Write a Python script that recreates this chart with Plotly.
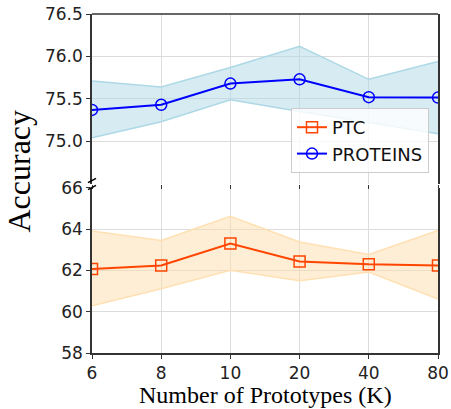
import plotly.graph_objects as go

categories = ["6", "8", "10", "20", "40", "80"]

proteins_mean = [75.37, 75.43, 75.68, 75.73, 75.52, 75.515]
proteins_upper = [75.71, 75.64, 75.87, 76.12, 75.73, 75.94]
proteins_lower = [75.04, 75.23, 75.49, 75.35, 75.22, 75.09]

ptc_mean = [62.06, 62.24, 63.30, 62.43, 62.29, 62.24]
ptc_upper = [63.90, 63.45, 64.62, 63.37, 62.77, 63.93]
ptc_lower = [60.28, 61.11, 62.00, 61.50, 61.92, 60.61]

top_ticks = [75.0, 75.5, 76.0, 76.5]
bottom_ticks = [58, 60, 62, 64, 66]

W, H = 451, 409
L, R, T, B = 92, 13, 14, 56
PW, PH = W - L - R, H - T - B


def px_x(p):
    return (p - L) / PW


def px_y(p):
    return (H - B - p) / PH


fig = go.Figure()

# PROTEINS band (top)
fig.add_trace(go.Scatter(x=categories, y=proteins_upper, xaxis="x2", yaxis="y2",
                         mode="lines", line=dict(color="rgb(173,216,230)", width=1.5),
                         showlegend=False, hoverinfo="skip"))
fig.add_trace(go.Scatter(x=categories, y=proteins_lower, xaxis="x2", yaxis="y2",
                         mode="lines", line=dict(color="rgb(173,216,230)", width=1.5),
                         fill="tonexty", fillcolor="rgba(173,216,230,0.5)",
                         showlegend=False, hoverinfo="skip"))
# PTC band (bottom)
fig.add_trace(go.Scatter(x=categories, y=ptc_upper, xaxis="x", yaxis="y",
                         mode="lines", line=dict(color="rgb(255,224,178)", width=1.5),
                         showlegend=False, hoverinfo="skip"))
fig.add_trace(go.Scatter(x=categories, y=ptc_lower, xaxis="x", yaxis="y",
                         mode="lines", line=dict(color="rgb(255,224,178)", width=1.5),
                         fill="tonexty", fillcolor="rgba(255,222,173,0.5)",
                         showlegend=False, hoverinfo="skip"))

fig.add_trace(go.Scatter(x=categories, y=ptc_mean, xaxis="x", yaxis="y", name="PTC",
                         legendrank=1,
                         mode="lines+markers", line=dict(color="#FF4500", width=2),
                         marker=dict(symbol="square-open", size=11, color="#FF4500",
                                     line=dict(width=1.5))))
fig.add_trace(go.Scatter(x=categories, y=proteins_mean, xaxis="x2", yaxis="y2", name="PROTEINS",
                         legendrank=2,
                         mode="lines+markers", line=dict(color="#0000FF", width=2),
                         marker=dict(symbol="circle-open", size=11, color="#0000FF",
                                     line=dict(width=1.5))))

spine = "#333333"
grid = "#dcdcdc"
tickfont = dict(family="DejaVu Sans", size=17, color="#222222")

bottom_dom = [0, px_y(187.7)]
top_dom = [px_y(183.7), 1]

fig.update_layout(
    template="none",
    width=W, height=H,
    margin=dict(l=L, r=R, t=T, b=B, pad=0),
    paper_bgcolor="white", plot_bgcolor="white",
    xaxis=dict(domain=[0, 1], anchor="y", type="category", range=[0, 5],
               categoryorder="array", categoryarray=categories, automargin=False,
               showgrid=True, gridcolor=grid, gridwidth=1,
               showline=True, linecolor=spine, linewidth=1.5, mirror=False,
               ticks="outside", ticklen=4, tickcolor=spine, tickwidth=1.2,
               tickfont=tickfont, zeroline=False),
    yaxis=dict(domain=bottom_dom, anchor="x", range=[58, 66], tickvals=bottom_ticks,
               automargin=False,
               showgrid=True, gridcolor=grid, gridwidth=1,
               showline=True, linecolor=spine, linewidth=1.5, mirror=True,
               ticks="outside", ticklen=4, tickcolor=spine, tickwidth=1.2,
               tickfont=tickfont, zeroline=False),
    xaxis2=dict(domain=[0, 1], anchor="y2", type="category", range=[0, 5],
                categoryorder="array", categoryarray=categories, matches="x",
                automargin=False,
                showgrid=True, gridcolor=grid, gridwidth=1,
                showline=False, showticklabels=False,
                ticks="outside", ticklen=4, tickcolor=spine, tickwidth=1.2,
                zeroline=False),
    yaxis2=dict(domain=top_dom, anchor="x2", range=[74.5, 76.5], tickvals=top_ticks,
                tickformat=".1f", automargin=False,
                showgrid=True, gridcolor=grid, gridwidth=1,
                showline=True, linecolor=spine, linewidth=1.5, mirror=True,
                ticks="outside", ticklen=4, tickcolor=spine, tickwidth=1.2,
                tickfont=tickfont, zeroline=False),
    legend=dict(x=px_x(429), y=px_y(108), xanchor="right", yanchor="top",
                bgcolor="rgba(255,255,255,0.8)", bordercolor="#cccccc", borderwidth=1,
                font=dict(family="DejaVu Sans", size=18, color="#111111"),
                traceorder="normal", tracegroupgap=2),
    showlegend=True,
)

# top spine of the upper panel
fig.add_shape(type="line", xref="x2 domain", yref="y2 domain", x0=0, x1=1, y0=1, y1=1,
              line=dict(color=spine, width=1.5))

# axis break marks
for yc in (180.5, 187.5):
    fig.add_shape(type="line", xref="paper", yref="paper",
                  x0=px_x(88), x1=px_x(96), y0=px_y(yc + 2.2), y1=px_y(yc - 2.2),
                  line=dict(color="black", width=1.5))

fig.add_annotation(text="Accuracy", xref="paper", yref="paper",
                   x=px_x(19), y=px_y(171.5), textangle=-90, showarrow=False,
                   xanchor="center", yanchor="middle",
                   font=dict(family="Liberation Serif", size=32, color="black"))
fig.add_annotation(text="Number of Prototypes (K)", xref="paper", yref="paper",
                   x=0.5, y=px_y(395), showarrow=False,
                   xanchor="center", yanchor="middle",
                   font=dict(family="Liberation Serif", size=24, color="black"))

fig.write_html("out.html", config={"displayModeBar": False},
               post_script="document.body.style.margin='0px';")
